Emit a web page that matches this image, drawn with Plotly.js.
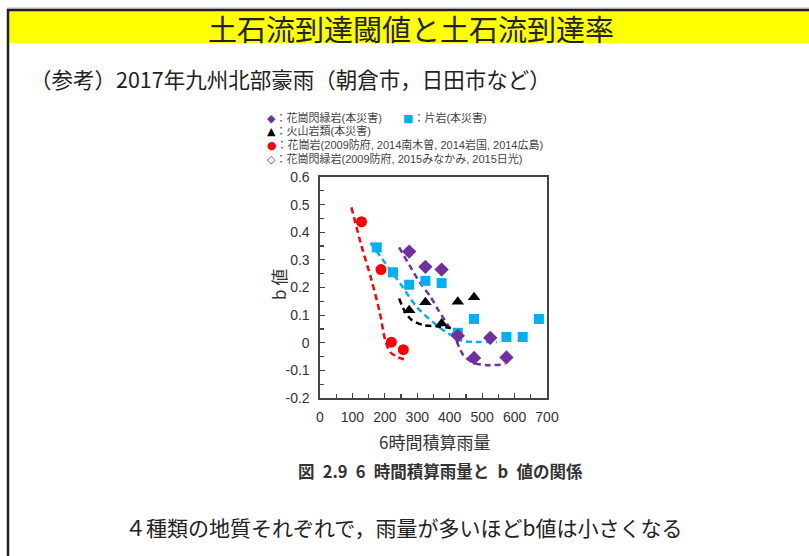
<!DOCTYPE html>
<html>
<head>
<meta charset="utf-8">
<script src="https://cdn.plot.ly/plotly-3.0.1.min.js"></script>
<style>
  html, body { margin: 0; padding: 0; background: #fff; }
  #chart { width: 809px; height: 556px; }
</style>
</head>
<body>
<div id="chart"></div>
<script>
// 6-hour accumulated rainfall (mm) vs. b value, by geology

// 花崗閃緑岩(本災害)
const granodioriteX = [275, 325, 375, 425, 475, 525, 575];
const granodioriteY = [0.33, 0.275, 0.265, 0.025, -0.055, 0.018, -0.053];

// 片岩(本災害)
const schistX = [175, 225, 275, 325, 375, 425, 475, 575, 625, 675];
const schistY = [0.345, 0.255, 0.21, 0.224, 0.216, 0.036, 0.086, 0.021, 0.021, 0.086];

// 火山岩類(本災害)
const volcanicX = [275, 325, 375, 425, 475];
const volcanicY = [0.118, 0.147, 0.07, 0.148, 0.165];

// 花崗岩(2009防府, 2014南木曽, 2014岩国, 2014広島)
const graniteX = [128, 188, 220, 257];
const graniteY = [0.438, 0.265, 0.002, -0.025];

// 花崗閃緑岩(2009防府, 2015みなかみ, 2015日光)
const pastGranodioriteX = [150, 222, 220];
const pastGranodioriteY = [0.59, 0.246, 0.145];

// Trend curves (dashed)
const graniteFitX = [97, 128, 159, 185, 200, 216, 241, 272];
const graniteFitY = [0.49, 0.35, 0.227, 0.106, 0.015, -0.033, -0.053, -0.063];

const schistFitX = [156, 200, 247, 298, 355, 401, 442, 493, 545];
const schistFitY = [0.362, 0.29, 0.215, 0.13, 0.068, 0.03, 0.006, 0.003, 0.002];

const granodioriteFitX = [244, 276, 308, 340, 365, 411, 442, 473, 514, 571];
const granodioriteFitY = [0.345, 0.28, 0.218, 0.168, 0.118, 0.032, -0.045, -0.073, -0.081, -0.078];

const volcanicFitX = [244, 262, 283, 319, 370, 416];
const volcanicFitY = [0.16, 0.112, 0.082, 0.064, 0.058, 0.052];

// Axis ticks
const xTickVals = [0, 100, 200, 300, 400, 500, 600, 700];
const xTickText = ['0', '100', '200', '300', '400', '500', '600', '700'];
const yTickVals = [-0.2, -0.1, 0, 0.1, 0.2, 0.3, 0.4, 0.5, 0.6];
const yTickText = ['-0.2', '-0.1', '0', '0.1', '0.2', '0.3', '0.4', '0.5', '0.6'];

// Key entries: symbol, colour, label
const keySymbols = ['◆', '■', '▲', '●', '◇'];
const keyLabels = [
  '：花崗閃緑岩(本災害)',
  '：片岩(本災害)',
  '：火山岩類(本災害)',
  '：花崗岩(2009防府, 2014南木曽, 2014岩国, 2014広島)',
  '：花崗閃緑岩(2009防府, 2015みなかみ, 2015日光)'
];

const PURPLE = '#7030A0';
const CYAN = '#00B0F0';
const RED = '#FF0000';
const BLACK = '#000000';
const keyColors = [PURPLE, CYAN, BLACK, RED, PURPLE];
// pixel anchor of each key entry (symbol x, row y)
const keyPos = [[271, 118], [407, 118], [271, 131.5], [271, 145], [271, 158.5]];

const JP = '"Noto Sans CJK JP", "Noto Sans", sans-serif';
const NUM = '"Liberation Sans", Arial, sans-serif';
const KEY = '"Liberation Sans", "Noto Sans CJK JP", sans-serif';

function fit(x, y, color) {
  return {
    x: x, y: y, type: 'scatter', mode: 'lines', hoverinfo: 'skip',
    line: { color: color, width: 2.5, dash: '6px,4px', shape: 'spline', smoothing: 0.8 },
    showlegend: false
  };
}
function pts(x, y, symbol, color, size, open) {
  return {
    x: x, y: y, type: 'scatter', mode: 'markers', showlegend: false,
    marker: open
      ? { symbol: symbol, size: size, color: 'rgba(0,0,0,0)', line: { color: color, width: 1.6 } }
      : { symbol: symbol, size: size, color: color, line: { width: 0 } }
  };
}

const traces = [
  fit(graniteFitX, graniteFitY, RED),
  fit(schistFitX, schistFitY, CYAN),
  fit(granodioriteFitX, granodioriteFitY, PURPLE),
  fit(volcanicFitX, volcanicFitY, BLACK),
  pts(schistX, schistY, 'square', CYAN, 10),
  pts(volcanicX, volcanicY, 'triangle-up', BLACK, 11),
  pts(graniteX, graniteY, 'circle', RED, 11),
  pts(granodioriteX, granodioriteY, 'diamond', PURPLE, 11),
  pts(pastGranodioriteX, pastGranodioriteY, 'diamond-open', PURPLE, 11, true)
];

const W = 809, H = 556;
const px = v => v / W;
const py = v => 1 - v / H;

const annotations = [
  { text: '土石流到達閾値と土石流到達率', x: px(411), y: py(28), font: { family: JP, size: 29, color: '#222' } },
  { text: '（参考）2017年九州北部豪雨（朝倉市，日田市など）', x: px(29), y: py(78), xanchor: 'left', font: { family: JP, size: 21.5, color: '#222' } },
  { text: '6時間積算雨量', x: px(434), y: py(441), font: { family: JP, size: 17, color: '#333' } },
  { text: 'b 値', x: px(278), y: py(285), textangle: -90, font: { family: JP, size: 17, color: '#333' } },
  { text: '<b>図\u20022.9\u20026\u2002時間積算雨量と\u2002b\u2002値の関係</b>', x: px(440), y: py(471), font: { family: JP, size: 16.5, color: '#333' } },
  { text: '４種類の地質それぞれで，雨量が多いほどb値は小さくなる', x: px(404), y: py(527), font: { family: JP, size: 21, color: '#222' } }
];
keyLabels.forEach((label, i) => {
  const [sx, sy] = keyPos[i];
  annotations.push({
    text: '<span style="color:' + keyColors[i] + ';font-family:DejaVu Sans;font-size:11px">' + keySymbols[i] + '</span>' + label,
    x: px(sx - 5), y: py(sy), xanchor: 'left',
    font: { family: KEY, size: 11, color: '#444' }
  });
});
annotations.forEach(a => {
  a.xref = 'paper'; a.yref = 'paper'; a.showarrow = false;
  a.borderpad = 0;
  if (!a.xanchor) a.xanchor = 'center';
  if (!a.yanchor) a.yanchor = 'middle';
});

const shapes = [
  { type: 'rect', xref: 'paper', yref: 'paper', x0: px(9), x1: 1, y0: py(43), y1: py(11), fillcolor: '#FFFF00', line: { width: 0 }, layer: 'below' },
  { type: 'line', xref: 'paper', yref: 'paper', x0: px(7), x1: 1, y0: py(8), y1: py(8), line: { color: '#bbb', width: 1 } },
  { type: 'line', xref: 'paper', yref: 'paper', x0: px(7), x1: 1, y0: py(10), y1: py(10), line: { color: '#231f1f', width: 2.5 } },
  { type: 'line', xref: 'paper', yref: 'paper', x0: px(8), x1: px(8), y0: py(9), y1: 0, line: { color: '#231f1f', width: 2.5 } }
];

const axisCommon = {
  showgrid: false, zeroline: false, showline: true, mirror: true,
  linecolor: '#444', linewidth: 1.6,
  ticks: 'inside', ticklen: 5, tickwidth: 1.2, tickcolor: '#444',
  tickfont: { family: NUM, size: 14, color: '#333' }
};

const layout = {
  width: W, height: H,
  margin: { l: 0, r: 0, t: 0, b: 0 },
  paper_bgcolor: '#fff', plot_bgcolor: '#fff',
  showlegend: false,
  xaxis: Object.assign({}, axisCommon, {
    domain: [px(320), px(547)], range: [0, 700],
    tickmode: 'array', tickvals: xTickVals, ticktext: xTickText,
    minor: { dtick: 50, ticks: 'inside', ticklen: 4, tickcolor: '#444' },
    ticklabelstandoff: 6
  }),
  yaxis: Object.assign({}, axisCommon, {
    domain: [py(398), py(177)], range: [-0.2, 0.6],
    tickmode: 'array', tickvals: yTickVals, ticktext: yTickText,
    minor: { dtick: 0.05, ticks: 'inside', ticklen: 4, tickcolor: '#444' },
    ticklabelstandoff: 6
  }),
  annotations: annotations,
  shapes: shapes
};

Plotly.newPlot('chart', traces, layout, { staticPlot: true, displayModeBar: false });
</script>
</body>
</html>
